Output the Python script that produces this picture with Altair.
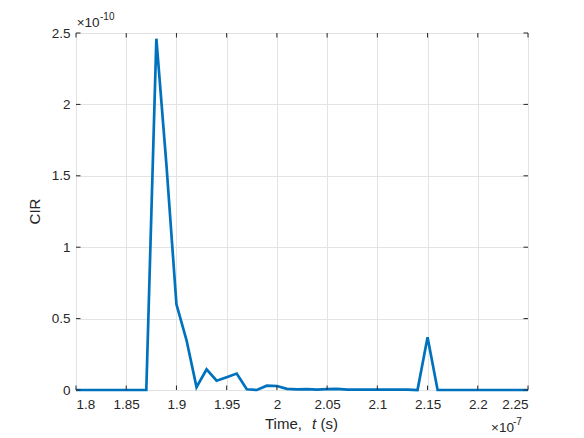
import altair as alt
import pandas as pd

# Time in units of 1e-7 s, CIR in units of 1e-10
times = [1.80, 1.81, 1.82, 1.83, 1.84, 1.85, 1.86, 1.87, 1.88, 1.89,
         1.90, 1.91, 1.92, 1.93, 1.94, 1.95, 1.96, 1.97, 1.98, 1.99,
         2.00, 2.01, 2.02, 2.03, 2.04, 2.05, 2.06, 2.07, 2.08, 2.09,
         2.10, 2.11, 2.12, 2.13, 2.14, 2.15, 2.16, 2.17, 2.18, 2.19,
         2.20, 2.21, 2.22, 2.23, 2.24, 2.25]
cir = [0, 0, 0, 0, 0, 0, 0, 0, 2.46, 1.58,
       0.60, 0.35, 0.02, 0.145, 0.065, 0.09, 0.115, 0.005, 0.0, 0.03,
       0.028, 0.008, 0.004, 0.006, 0.003, 0.006, 0.008, 0.002, 0.002, 0.002,
       0.002, 0.002, 0.002, 0.002, 0.0, 0.37, 0.0, 0, 0, 0,
       0, 0, 0, 0, 0, 0]
x_ticks = [1.8, 1.85, 1.9, 1.95, 2.0, 2.05, 2.1, 2.15, 2.2, 2.25]
y_ticks = [0, 0.5, 1, 1.5, 2, 2.5]

W, H = 452, 357
AX = "#262626"
FONT = "Liberation Sans"
BLUE = "#0072BD"

df = pd.DataFrame({"t": times, "v": cir})
xs = alt.Scale(domain=[1.8, 2.25], nice=False, zero=False)
ys = alt.Scale(domain=[0, 2.5], nice=False, zero=True)

x_axis = alt.Axis(values=x_ticks, format="~g", grid=True, gridColor="#e3e3e3",
                  domain=False, ticks=False, labelPadding=7,
                  labelFontSize=13.5, labelColor=AX, labelFont=FONT)
y_axis = alt.Axis(values=y_ticks, format="~g", grid=True, gridColor="#e3e3e3",
                  domain=False, ticks=False, labelPadding=6,
                  labelFontSize=13.5, labelColor=AX, labelFont=FONT)

line = alt.Chart(df).mark_line(color=BLUE, strokeWidth=2.7, strokeJoin="miter").encode(
    x=alt.X("t:Q", scale=xs, title=None, axis=x_axis),
    y=alt.Y("v:Q", scale=ys, title=None, axis=y_axis),
)

xt = pd.DataFrame({"tick": x_ticks})
yt = pd.DataFrame({"tick": y_ticks})
tick_len = 4.5
xb = alt.Chart(xt).mark_rule(color=AX, strokeWidth=1).encode(
    x=alt.X("tick:Q", title=None, axis=x_axis), y=alt.value(H), y2=alt.value(H - tick_len))
xtop = alt.Chart(xt).mark_rule(color=AX, strokeWidth=1).encode(
    x=alt.X("tick:Q", title=None, axis=x_axis), y=alt.value(0), y2=alt.value(tick_len))
yl = alt.Chart(yt).mark_rule(color=AX, strokeWidth=1).encode(
    y=alt.Y("tick:Q", title=None, axis=y_axis), x=alt.value(0), x2=alt.value(tick_len))
yr = alt.Chart(yt).mark_rule(color=AX, strokeWidth=1).encode(
    y=alt.Y("tick:Q", title=None, axis=y_axis), x=alt.value(W), x2=alt.value(W - tick_len))

one = pd.DataFrame({"a": [0]})

def txt(s, x, y, size=15, style="normal", align="left", angle=0, baseline="alphabetic"):
    kw = dict(text=s, fontSize=size, font=FONT, color=AX, fontStyle=style,
              align=align, baseline=baseline)
    if angle:
        kw["angle"] = angle
    return alt.Chart(one).mark_text(**kw).encode(x=alt.value(x), y=alt.value(y))

labels = [
    txt("Time,", 189, H + 39),
    txt("t", 236, H + 39, style="italic"),
    txt("(s)", 244.5, H + 39),
    txt("CIR", -41, H / 2, angle=270, align="center", baseline="middle"),
    txt("×10", 0.7, -6.5, size=13.5),
    txt("-10", 24, -13.5, size=10),
    txt("×10", 415, H + 42, size=13.5),
    txt("-7", 437, H + 35, size=10),
]

chart = alt.layer(line, xb, xtop, yl, yr, *labels).properties(
    width=W, height=H,
    autosize=alt.AutoSizeParams(type="none"),
    padding={"left": 68, "top": 25, "right": 48, "bottom": 46},
).configure_view(stroke=AX, strokeWidth=1).configure(background="white")

chart.save("out.html", embed_options={"renderer": "svg", "actions": False})
